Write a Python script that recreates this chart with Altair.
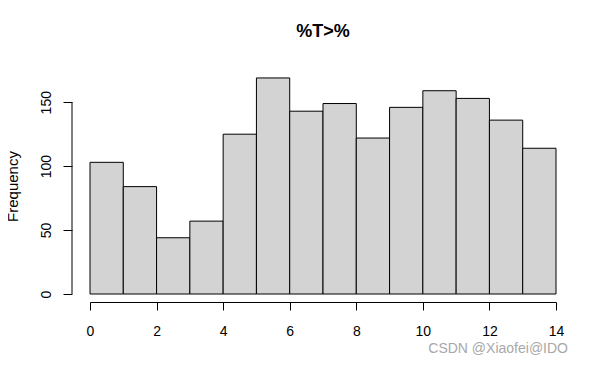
import altair as alt
import pandas as pd

# ---- data ----
bin_start = [0, 1, 2, 3, 4, 5, 6, 7, 8, 9, 10, 11, 12, 13]
bin_end = [1, 2, 3, 4, 5, 6, 7, 8, 9, 10, 11, 12, 13, 14]
counts = [103, 84, 44, 57, 125, 169, 143, 149, 122, 146, 159, 153, 136, 114]
x_ticks = [0, 2, 4, 6, 8, 10, 12, 14]
y_ticks = [0, 50, 100, 150]
title_text = "%T>%"
y_title = "Frequency"
watermark = ["CSDN @Xiaofei@IDO"]

df = pd.DataFrame({"start": bin_start, "end": bin_end, "count": counts})
axis_df = pd.DataFrame({"lo": [y_ticks[0]], "hi": [y_ticks[-1]]})
wm_df = pd.DataFrame({"t": watermark})

FONT = "Liberation Sans"

xscale = alt.Scale(domain=[0, 14], nice=False, zero=False)
yscale = alt.Scale(domain=[0, 176], nice=False)

x_axis = alt.Axis(
    values=x_ticks, title=None, offset=8, tickSize=8, labelPadding=14,
    domainColor="black", tickColor="black", labelColor="black",
    labelFontSize=14, labelFont=FONT, grid=False, format="d",
    labelBaseline="top", labelAlign="center", labelFlush=False,
)
y_axis = alt.Axis(
    values=y_ticks, title=y_title, domain=False, offset=18, tickSize=9,
    labelPadding=13, labelAngle=270, labelAlign="center",
    labelBaseline="alphabetic", tickColor="black", labelColor="black",
    labelFontSize=14, labelFont=FONT, grid=False, format="d",
    titleFont=FONT, titleFontSize=15, titleFontWeight="normal",
    titleColor="black", titlePadding=19, titleY=117, labelFlush=False,
)

bars = alt.Chart(df).mark_rect(
    fill="#d3d3d3", stroke="black", strokeWidth=1
).encode(
    x=alt.X("start:Q", scale=xscale, axis=x_axis),
    x2="end:Q",
    y=alt.Y("count:Q", scale=yscale, axis=y_axis),
    y2=alt.Y2(datum=0),
)

axis_line = alt.Chart(axis_df).mark_rule(color="black", strokeWidth=1).encode(
    x=alt.value(-18),
    y=alt.Y("lo:Q", scale=yscale, axis=y_axis),
    y2="hi:Q",
)

wm = alt.Chart(wm_df).mark_text(
    align="right", baseline="middle", fontSize=14, font=FONT, color="#a8a8a8"
).encode(
    text="t:N",
    x=alt.value(478),
    y=alt.value(280),
)

chart = alt.layer(bars, axis_line, wm).properties(
    width=466,
    height=225,
    title=alt.TitleParams(
        title_text, fontSize=18, fontWeight="bold", font=FONT,
        anchor="middle", frame="group", color="black", offset=14,
        baseline="alphabetic",
    ),
    autosize=alt.AutoSizeParams(type="none"),
    padding={"left": 82, "top": 61, "right": 30, "bottom": 72},
).configure_view(stroke=None)

chart.save("out.html", embed_options={"renderer": "svg", "actions": False})
